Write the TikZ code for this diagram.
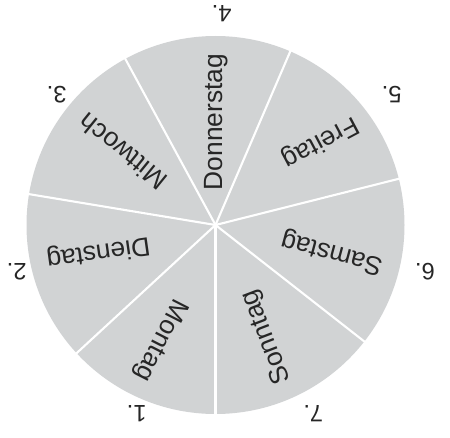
\documentclass[tikz,border=0pt]{standalone}
\usepackage{fontspec}
\setmainfont{Liberation Sans}
\usetikzlibrary{calc}
\definecolor{wheelgray}{HTML}{D1D3D4}
\begin{document}
\begin{tikzpicture}[x=0.02cm,y=0.02cm,
  day/.style={font=\fontsize{15}{18}\selectfont, inner sep=0pt, text=black!85},
  num/.style={font=\fontsize{13.5}{16}\selectfont, inner sep=0pt, rotate=180, text=black!85},
  sep/.style={draw=white, line width=1.2pt}]
\useasboundingbox (0,0) rectangle (450,437);
\coordinate (c) at (215.5,212);
\fill[wheelgray] (c) circle[radius=189];
\foreach \a/\n in {270/a,321.95/b,14.15/c,66.7/d,118.5/e,170.6/f,222.7/g}
  \coordinate (e\n) at ($(c)+(\a:191)$);
\foreach \n in {a,b,c,d,e,f,g}
  \draw[sep] (c) -- (e\n);
\node[day, rotate=90]  (don) at (216,315) {Donnerstag};
\node[day, rotate=208] (fre) at (320,295.3) {Freitag};
\node[day, rotate=165] (sam) at (332,185) {Samstag};
\node[day, rotate=111] (son) at (266.7,100.3) {Sonntag};
\node[day, rotate=243] (mon) at (160,97) {Montag};
\node[day, rotate=188] (die) at (98.3,185.3) {Dienstag};
\node[day, rotate=141] (mit) at (122.7,285.3) {Mittwoch};
\node[num] (n4) at (221.7,423.7) {4.};
\node[num] (n5) at (391.7,342) {5.};
\node[num] (n6) at (425,165.3) {6.};
\node[num] (n7) at (313.3,23.7) {7.};
\node[num] (n1) at (136.7,23.7) {1.};
\node[num] (n2) at (16.7,165.3) {2.};
\node[num] (n3) at (56.7,342) {3.};
\end{tikzpicture}
\end{document}
